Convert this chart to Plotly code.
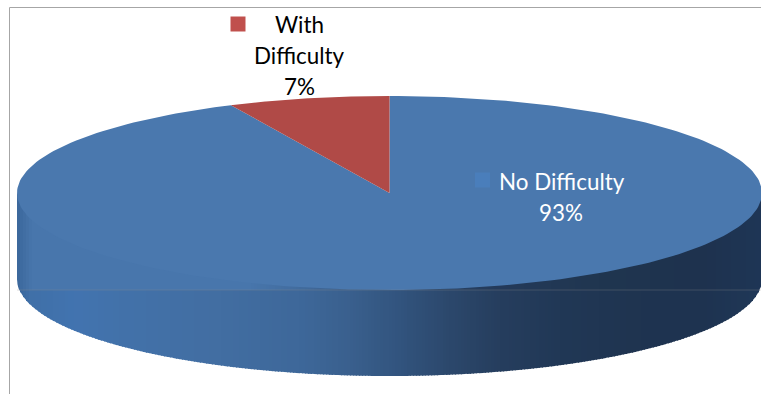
import numpy as np
import plotly.graph_objects as go

# Survey shares, in percent
categories = ["No Difficulty", "With Difficulty"]
shares = [93, 7]

top_colors = {"No Difficulty": "#4a78ae", "With Difficulty": "#b04a47"}
key_colors = {"No Difficulty": "#4a7ebb", "With Difficulty": "#c0504d"}

# Projected disc geometry, in plot units
CX, CY, RX, RY, DEPTH = 389.5, 193.0, 372.5, 97.0, 86.0
FLOOR_Y = 290.0

# Rim shading left to right, below the floor line
LOWER_STOPS = [
    (16, (56, 100, 152)), (30, (64, 112, 168)), (75, (66, 116, 176)),
    (120, (66, 114, 170)), (220, (66, 110, 162)), (300, (62, 104, 154)),
    (350, (58, 96, 142)), (400, (50, 84, 126)), (450, (44, 72, 108)),
    (500, (38, 62, 94)), (560, (33, 56, 86)), (640, (31, 52, 80)),
    (700, (30, 51, 80)), (762, (32, 56, 88)),
]
# Rim shading above the floor line, where it blends into the top face
UPPER_STOPS = [
    (16, (58, 102, 154)), (32, (72, 118, 172)), (250, (72, 118, 172)),
    (300, (66, 108, 158)), (350, (58, 94, 138)), (400, (46, 76, 114)),
    (450, (40, 66, 100)), (500, (36, 58, 90)), (600, (32, 54, 80)),
    (700, (30, 50, 78)), (762, (30, 54, 86)),
]


def shade(stops, x):
    xp = [s[0] for s in stops]
    rgb = [np.interp(x, xp, [s[1][i] for s in stops]) for i in range(3)]
    return "rgb(%d,%d,%d)" % tuple(rgb)


fig = go.Figure()

# Rim: thin vertical bands following the lower half of the ellipse
edges = np.arange(17.0, 763.0, 3.0)
for x0 in edges:
    xs = np.linspace(x0, x0 + 4.0, 5)
    u = np.clip((xs - CX) / RX, -1, 1)
    arc = CY + RY * np.sqrt(1 - u ** 2)
    base = arc + DEPTH
    # The floor line never falls below the outer edge near the tips
    split = np.minimum(FLOOR_Y, base)
    for top, bottom, stops in ((arc - 3, split + 0.5, UPPER_STOPS), (split, base, LOWER_STOPS)):
        fig.add_trace(go.Scatter(
            x=np.r_[xs, xs[::-1]], y=np.r_[top, bottom[::-1]],
            mode="lines", fill="toself", fillcolor=shade(stops, x0 + 1.5), line=dict(width=0),
            hoverinfo="skip", showlegend=False,
        ))

# Top face: one wedge per category, clockwise from twelve o'clock
start = 0.0
for name, share in zip(categories, shares):
    sweep = share / sum(shares) * 2 * np.pi
    t = np.linspace(start, start + sweep, 240)
    fig.add_trace(go.Scatter(
        x=np.r_[CX, CX + RX * np.sin(t), CX],
        y=np.r_[CY, CY - RY * np.cos(t), CY],
        mode="lines", fill="toself", fillcolor=top_colors[name],
        line=dict(width=0), hoverinfo="skip", showlegend=False,
    ))
    start += sweep

# Legend keys that sit beside the data labels
fig.add_trace(go.Scatter(
    x=[482.5, 238], y=[180, 24], mode="markers",
    marker=dict(symbol="square", size=15, color=[key_colors[c] for c in categories], line=dict(width=0)),
    hoverinfo="skip", showlegend=False,
))

label_font = "Lato, 'Open Sans', sans-serif"
LABEL_SIZE = 22.4
fig.add_annotation(x=561.5, y=181, text=categories[0], showarrow=False,
                   font=dict(family=label_font, size=LABEL_SIZE, color="white"))
fig.add_annotation(x=561, y=212.5, text=f"{shares[0]}%", showarrow=False,
                   font=dict(family=label_font, size=LABEL_SIZE, color="white"))
fig.add_annotation(x=299, y=24, text="With", showarrow=False,
                   font=dict(family=label_font, size=LABEL_SIZE, color="black"))
fig.add_annotation(x=299.5, y=55, text="Difficulty", showarrow=False,
                   font=dict(family=label_font, size=LABEL_SIZE, color="black"))
fig.add_annotation(x=299, y=86.5, text=f"{shares[1]}%", showarrow=False,
                   font=dict(family=label_font, size=LABEL_SIZE, color="black"))

# Chart frame and the faint floor line through the rim
fig.add_shape(type="line", x0=9.5, x1=9.5, y0=7.5, y1=394, line=dict(color="#a6a6a6", width=1))
fig.add_shape(type="line", x0=9.5, x1=761, y0=7.5, y1=7.5, line=dict(color="#a6a6a6", width=1))
fig.add_shape(type="line", x0=17, x1=761, y0=FLOOR_Y, y1=FLOOR_Y, line=dict(color="rgba(140,140,140,0.3)", width=1))

fig.update_layout(
    width=761, height=394, margin=dict(l=0, r=0, t=0, b=0),
    paper_bgcolor="white", plot_bgcolor="white",
    xaxis=dict(range=[0, 761], visible=False, fixedrange=True),
    yaxis=dict(range=[394, 0], visible=False, fixedrange=True),
)

fig.write_html("out.html", config={"displayModeBar": False})
